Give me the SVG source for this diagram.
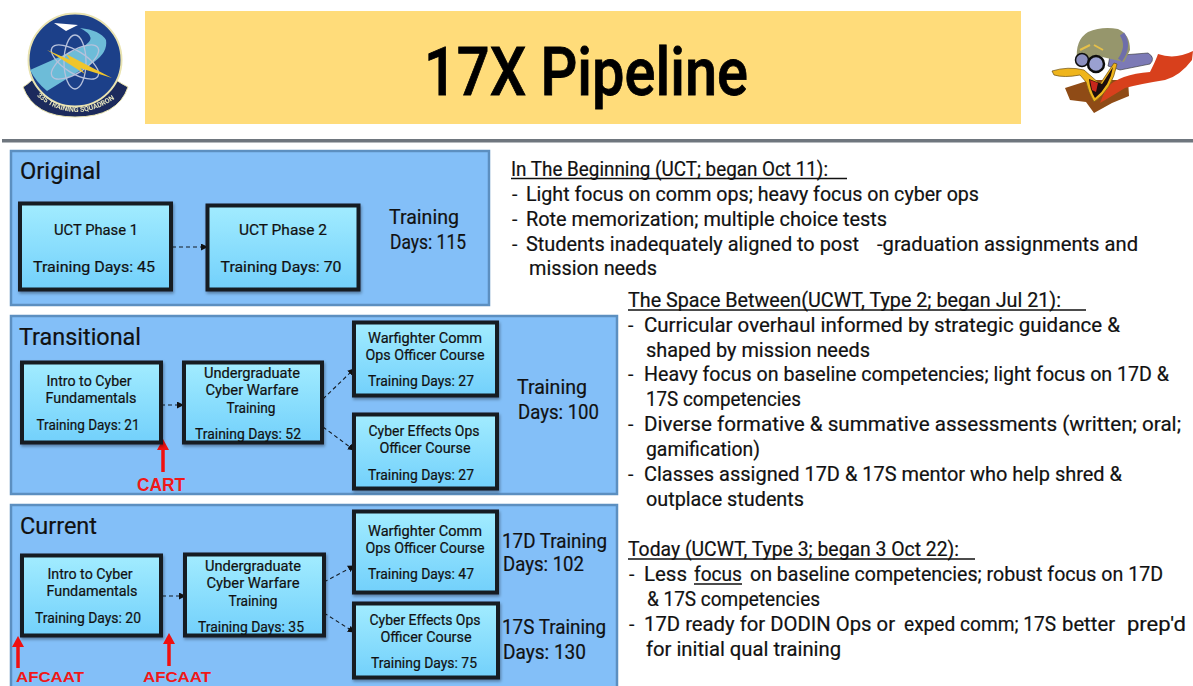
<svg xmlns="http://www.w3.org/2000/svg" width="1193" height="686" viewBox="0 0 1193 686">
<style>
text{font-family:Roboto,"Noto Sans","Liberation Sans",sans-serif;fill:#111;stroke:#111;stroke-width:.2}
.panel{fill:#83bff8;stroke:#5c8fc0;stroke-width:2.5}
.node{fill:url(#nf);stroke:#141c24;stroke-width:4;filter:url(#sh)}
.n{font-size:14px;text-anchor:middle}
.big{font-size:20px}
.head{font-size:23px}
.b{font-size:19.5px}
.red{font-family:"Liberation Sans",Arial,sans-serif;font-weight:700;font-size:18px;fill:#f01818;stroke:none}
.red2{font-size:15.500px}
.conn{fill:none;stroke:#141c24;stroke-width:1.1;stroke-dasharray:4 3;marker-end:url(#ah)}
.up{fill:none;stroke:#f01010;stroke-width:3.5;marker-end:url(#rh)}
.ul{stroke:#111;stroke-width:1.4}
</style>
<defs>
<linearGradient id="nf" x1="0" y1="0" x2="0" y2="1"><stop offset="0" stop-color="#a2ecff"/><stop offset="1" stop-color="#72d0fb"/></linearGradient>
<filter id="sh" x="-10%" y="-10%" width="125%" height="125%"><feDropShadow dx="1" dy="2" stdDeviation="1.5" flood-color="#000" flood-opacity=".35"/></filter>
<filter id="soft" x="-5%" y="-5%" width="110%" height="110%"><feGaussianBlur stdDeviation=".6"/></filter>
<marker id="ah" markerWidth="7" markerHeight="7" refX="6" refY="3.5" orient="auto" markerUnits="userSpaceOnUse"><path d="M0 0L7 3.5L0 7z" fill="#111"/></marker>
<marker id="rh" markerWidth="12" markerHeight="12" refX="7" refY="6" orient="auto" markerUnits="userSpaceOnUse"><path d="M0 0L11 6L0 12z" fill="#f01010"/></marker>
<path id="arc" d="M32 92Q75 132 124 92"/>
</defs>
<rect width="1193" height="686" fill="#fff"/>
<g id="badge" filter="url(#soft)">
<path d="M23 87Q28 84 32 80Q75 122 116 80Q122 84 128 87Q118 117 75 117Q34 117 23 87z" fill="#1b2c5c" stroke="#e8e2b0" stroke-width="1"/>
<circle cx="75" cy="60" r="46.500" fill="#1f4089" stroke="#e9e3b0" stroke-width="2"/>
<path d="M30 70L82 47Q100 38 80 28Q100 30 106 40Q108 52 94 62L47 91Q36 82 30 70z" fill="#6dbcd8"/>
<path d="M54 23L78 25L66 31z" fill="#fff"/>
<g fill="none" stroke="#b6c2dc" stroke-width="1.3"><ellipse cx="75" cy="62" rx="11" ry="27"/><ellipse cx="75" cy="62" rx="11" ry="27" transform="rotate(58 75 62)"/><ellipse cx="75" cy="62" rx="11" ry="27" transform="rotate(-58 75 62)"/></g>
<path d="M47 50L70 60L66 54L112 78L80 68L85 74z" fill="#f0c52c"/>
<text font-size="7" font-weight="700" style="fill:#e8e6c0;stroke:none"><textPath href="#arc" startOffset="6">335 TRAINING SQUADRON</textPath></text>
</g>
<g id="title"><rect x="145" y="11" width="876" height="113" fill="#ffdc7a"/><text x="586" y="95" text-anchor="middle" font-size="66" font-weight="500" textLength="324" lengthAdjust="spacingAndGlyphs" style="fill:#000;stroke:#000;stroke-width:.8">17X Pipeline</text></g>
<g id="duck" filter="url(#soft)">
<path d="M1065 88L1090 80L1128 80L1129 96L1112 103L1094 113L1086 102L1070 100z" fill="#8f4c14"/>
<path d="M1106 88Q1120 74 1150 72Q1156 60 1158 54Q1175 60 1193 51L1192 60Q1180 76 1165 80Q1140 84 1125 88Q1112 96 1100 103z" fill="#d8401c"/>
<path d="M1110 56L1148 53Q1156 58 1150 64L1120 70L1108 66z" fill="#7b7ab6" stroke="#333" stroke-width=".6"/>
<path d="M1077 60Q1075 40 1088 32Q1102 26 1118 29Q1130 34 1130 50L1124 62L1098 56L1084 60z" fill="#96966c"/>
<path d="M1122 34Q1130 46 1120 60" fill="none" stroke="#6e6eaa" stroke-width="5"/>
<path d="M1080 50L1090 45M1094 45L1103 50" stroke="#e6c04a" stroke-width="2"/>
<circle cx="1082" cy="60" r="6.500" fill="#8c90c0" stroke="#111" stroke-width="1.500"/><circle cx="1096" cy="64" r="8" fill="#9aa0d0" stroke="#111" stroke-width="2.500"/>
<path d="M1052 71Q1068 66 1084 70L1100 84L1114 63L1117 64Q1112 90 1094 102Q1088 92 1086 82L1080 75Q1064 78 1054 75z" fill="#efb51e" stroke="#6a4d10" stroke-width=".7"/>
<path d="M1089 79L1102 84L1113 67Q1110 86 1095 98Q1090 90 1089 79z" fill="#1b0c08"/>
<path d="M1090 80L1098 83L1096 92L1092 90z" fill="#c8281c"/>
</g>
<rect x="2" y="139" width="1191" height="3.500" fill="#6f767e"/>
<g id="panel-original"><rect class="panel" x="11" y="151" width="478" height="154"/><text x="20" y="179" class="head" textLength="81" lengthAdjust="spacingAndGlyphs">Original</text></g>
<g id="panel-transitional"><rect class="panel" x="11" y="316" width="606" height="178"/><text x="19" y="345" class="head" textLength="122" lengthAdjust="spacingAndGlyphs">Transitional</text></g>
<g id="panel-current"><rect class="panel" x="11" y="505" width="606" height="190"/><text x="20" y="534" class="head" textLength="77" lengthAdjust="spacingAndGlyphs">Current</text></g>
<g id="connectors">
<path class="conn" d="M172 247H207"/>
<path class="conn" d="M161 405H183"/>
<path class="conn" d="M323 399L354 369"/>
<path class="conn" d="M323 427L354 450"/>
<path class="conn" d="M162 596H185"/>
<path class="conn" d="M324 582L354 566"/>
<path class="conn" d="M324 613L354 632"/>
<path class="up" d="M163 472V443"/>
<path class="up" d="M18 668V640"/>
<path class="up" d="M169 666V637"/>
</g>
<g id="n-uct1"><rect class="node" x="20" y="203.500" width="151" height="86"/><text class="n" x="96" y="235" textLength="84" lengthAdjust="spacingAndGlyphs">UCT Phase 1</text><text class="n" x="94" y="272" textLength="122" lengthAdjust="spacingAndGlyphs">Training Days: 45</text></g>
<g id="n-uct2"><rect class="node" x="207.500" y="205.500" width="151" height="84"/><text class="n" x="283" y="235" textLength="88" lengthAdjust="spacingAndGlyphs">UCT Phase 2</text><text class="n" x="281" y="272" textLength="121" lengthAdjust="spacingAndGlyphs">Training Days: 70</text></g>
<g id="n-t-intro"><rect class="node" x="22" y="362.500" width="139" height="80"/><text class="n" x="89" y="386" textLength="85" lengthAdjust="spacingAndGlyphs">Intro to Cyber</text><text class="n" x="91" y="403" textLength="91" lengthAdjust="spacingAndGlyphs">Fundamentals</text><text class="n" x="88" y="430" textLength="103" lengthAdjust="spacingAndGlyphs">Training Days: 21</text></g>
<g id="n-t-ucwt"><rect class="node" x="184" y="362.500" width="138" height="80"/><text class="n" x="252" y="378" textLength="96" lengthAdjust="spacingAndGlyphs">Undergraduate</text><text class="n" x="252" y="395" textLength="93" lengthAdjust="spacingAndGlyphs">Cyber Warfare</text><text class="n" x="251" y="413" textLength="49" lengthAdjust="spacingAndGlyphs">Training</text><text class="n" x="248" y="439" textLength="106" lengthAdjust="spacingAndGlyphs">Training Days: 52</text></g>
<g id="n-t-wf"><rect class="node" x="354" y="322.500" width="143" height="73"/><text class="n" x="425" y="343" textLength="114" lengthAdjust="spacingAndGlyphs">Warfighter Comm</text><text class="n" x="425" y="360" textLength="119" lengthAdjust="spacingAndGlyphs">Ops Officer Course</text><text class="n" x="421" y="386" textLength="106" lengthAdjust="spacingAndGlyphs">Training Days: 27</text></g>
<g id="n-t-ce"><rect class="node" x="354" y="414.500" width="143" height="74"/><text class="n" x="424" y="436" textLength="111" lengthAdjust="spacingAndGlyphs">Cyber Effects Ops</text><text class="n" x="425" y="453" textLength="91" lengthAdjust="spacingAndGlyphs">Officer Course</text><text class="n" x="421" y="480" textLength="106" lengthAdjust="spacingAndGlyphs">Training Days: 27</text></g>
<g id="n-c-intro"><rect class="node" x="22" y="555.500" width="139" height="80"/><text class="n" x="90" y="579" textLength="85" lengthAdjust="spacingAndGlyphs">Intro to Cyber</text><text class="n" x="92" y="596" textLength="91" lengthAdjust="spacingAndGlyphs">Fundamentals</text><text class="n" x="88" y="623" textLength="106" lengthAdjust="spacingAndGlyphs">Training Days: 20</text></g>
<g id="n-c-ucwt"><rect class="node" x="185" y="554.500" width="139" height="81"/><text class="n" x="253" y="571" textLength="96" lengthAdjust="spacingAndGlyphs">Undergraduate</text><text class="n" x="253" y="588" textLength="93" lengthAdjust="spacingAndGlyphs">Cyber Warfare</text><text class="n" x="253" y="606" textLength="49" lengthAdjust="spacingAndGlyphs">Training</text><text class="n" x="251" y="632" textLength="106" lengthAdjust="spacingAndGlyphs">Training Days: 35</text></g>
<g id="n-c-wf"><rect class="node" x="354" y="511.500" width="143" height="81"/><text class="n" x="425" y="536" textLength="114" lengthAdjust="spacingAndGlyphs">Warfighter Comm</text><text class="n" x="425" y="553" textLength="119" lengthAdjust="spacingAndGlyphs">Ops Officer Course</text><text class="n" x="421" y="579" textLength="106" lengthAdjust="spacingAndGlyphs">Training Days: 47</text></g>
<g id="n-c-ce"><rect class="node" x="354" y="603.500" width="144" height="74"/><text class="n" x="425" y="625" textLength="111" lengthAdjust="spacingAndGlyphs">Cyber Effects Ops</text><text class="n" x="426" y="642" textLength="91" lengthAdjust="spacingAndGlyphs">Officer Course</text><text class="n" x="424" y="668" textLength="106" lengthAdjust="spacingAndGlyphs">Training Days: 75</text></g>
<g id="totals">
<text class="big" x="389" y="224" textLength="70" lengthAdjust="spacingAndGlyphs">Training</text><text class="big" x="390" y="249" textLength="76" lengthAdjust="spacingAndGlyphs">Days: 115</text>
<text class="big" x="517" y="394" textLength="70" lengthAdjust="spacingAndGlyphs">Training</text><text class="big" x="518" y="419" textLength="81" lengthAdjust="spacingAndGlyphs">Days: 100</text>
<text class="big" x="502" y="548" textLength="105" lengthAdjust="spacingAndGlyphs">17D Training</text><text class="big" x="503" y="571" textLength="81" lengthAdjust="spacingAndGlyphs">Days: 102</text>
<text class="big" x="502" y="634" textLength="104" lengthAdjust="spacingAndGlyphs">17S Training</text><text class="big" x="503" y="659" textLength="83" lengthAdjust="spacingAndGlyphs">Days: 130</text>
<text class="red" x="137" y="491" textLength="48" lengthAdjust="spacingAndGlyphs">CART</text>
<text class="red red2" x="16" y="682" textLength="68" lengthAdjust="spacingAndGlyphs">AFCAAT</text>
<text class="red red2" x="143" y="682" textLength="68" lengthAdjust="spacingAndGlyphs">AFCAAT</text>
</g>
<g id="notes">
<text class="b" x="511" y="176" textLength="317" lengthAdjust="spacingAndGlyphs">In The Beginning (UCT; began Oct 11):</text><line class="ul" x1="511" y1="178.500" x2="847" y2="178.500"/>
<text class="b" x="512" y="201">-</text><text class="b" x="526" y="201" textLength="453" lengthAdjust="spacingAndGlyphs">Light focus on comm ops; heavy focus on cyber ops</text>
<text class="b" x="512" y="226">-</text><text class="b" x="526" y="226" textLength="361" lengthAdjust="spacingAndGlyphs">Rote memorization; multiple choice tests</text>
<text class="b" x="512" y="251">-</text><text class="b" x="526" y="251" textLength="333" lengthAdjust="spacingAndGlyphs">Students inadequately aligned to post</text><text class="b" x="877" y="251" textLength="261" lengthAdjust="spacingAndGlyphs">-graduation assignments and</text>
<text class="b" x="529" y="275" textLength="128" lengthAdjust="spacingAndGlyphs">mission needs</text>
<text class="b" x="628" y="307" textLength="433" lengthAdjust="spacingAndGlyphs">The Space Between(UCWT, Type 2; began Jul 21):</text><line class="ul" x1="628" y1="310" x2="1086" y2="310"/>
<text class="b" x="628" y="332">-</text><text class="b" x="644" y="332" textLength="476" lengthAdjust="spacingAndGlyphs">Curricular overhaul informed by strategic guidance &amp;</text>
<text class="b" x="646" y="357" textLength="224" lengthAdjust="spacingAndGlyphs">shaped by mission needs</text>
<text class="b" x="628" y="381">-</text><text class="b" x="644" y="381" textLength="525" lengthAdjust="spacingAndGlyphs">Heavy focus on baseline competencies; light focus on 17D &amp;</text>
<text class="b" x="646" y="406" textLength="155" lengthAdjust="spacingAndGlyphs">17S competencies</text>
<text class="b" x="628" y="431">-</text><text class="b" x="644" y="431" textLength="537" lengthAdjust="spacingAndGlyphs">Diverse formative &amp; summative assessments (written; oral;</text>
<text class="b" x="646" y="456" textLength="114" lengthAdjust="spacingAndGlyphs">gamification)</text>
<text class="b" x="628" y="481">-</text><text class="b" x="644" y="481" textLength="478" lengthAdjust="spacingAndGlyphs">Classes assigned 17D &amp; 17S mentor who help shred &amp;</text>
<text class="b" x="646" y="506" textLength="158" lengthAdjust="spacingAndGlyphs">outplace students</text>
<text class="b" x="628" y="556" textLength="331" lengthAdjust="spacingAndGlyphs">Today (UCWT, Type 3; began 3 Oct 22):</text><line class="ul" x1="628" y1="559" x2="975" y2="559"/>
<text class="b" x="629" y="581">-</text><text class="b" x="644" y="581" textLength="43" lengthAdjust="spacingAndGlyphs">Less</text><text class="b" x="694" y="581" textLength="48" lengthAdjust="spacingAndGlyphs">focus</text><line class="ul" x1="694" y1="584" x2="742" y2="584"/><text class="b" x="750" y="581" textLength="413" lengthAdjust="spacingAndGlyphs">on baseline competencies; robust focus on 17D</text>
<text class="b" x="647" y="606" textLength="173" lengthAdjust="spacingAndGlyphs">&amp; 17S competencies</text>
<text class="b" x="629" y="631">-</text><text class="b" x="644" y="631" textLength="251" lengthAdjust="spacingAndGlyphs">17D ready for DODIN Ops or</text><text class="b" x="904" y="631" textLength="152" lengthAdjust="spacingAndGlyphs">exped comm; 17S</text><text class="b" x="1062" y="631" textLength="53" lengthAdjust="spacingAndGlyphs">better</text><text class="b" x="1127" y="631" textLength="59" lengthAdjust="spacingAndGlyphs">prep'd</text>
<text class="b" x="646" y="656" textLength="195" lengthAdjust="spacingAndGlyphs">for initial qual training</text>
</g>
</svg>
